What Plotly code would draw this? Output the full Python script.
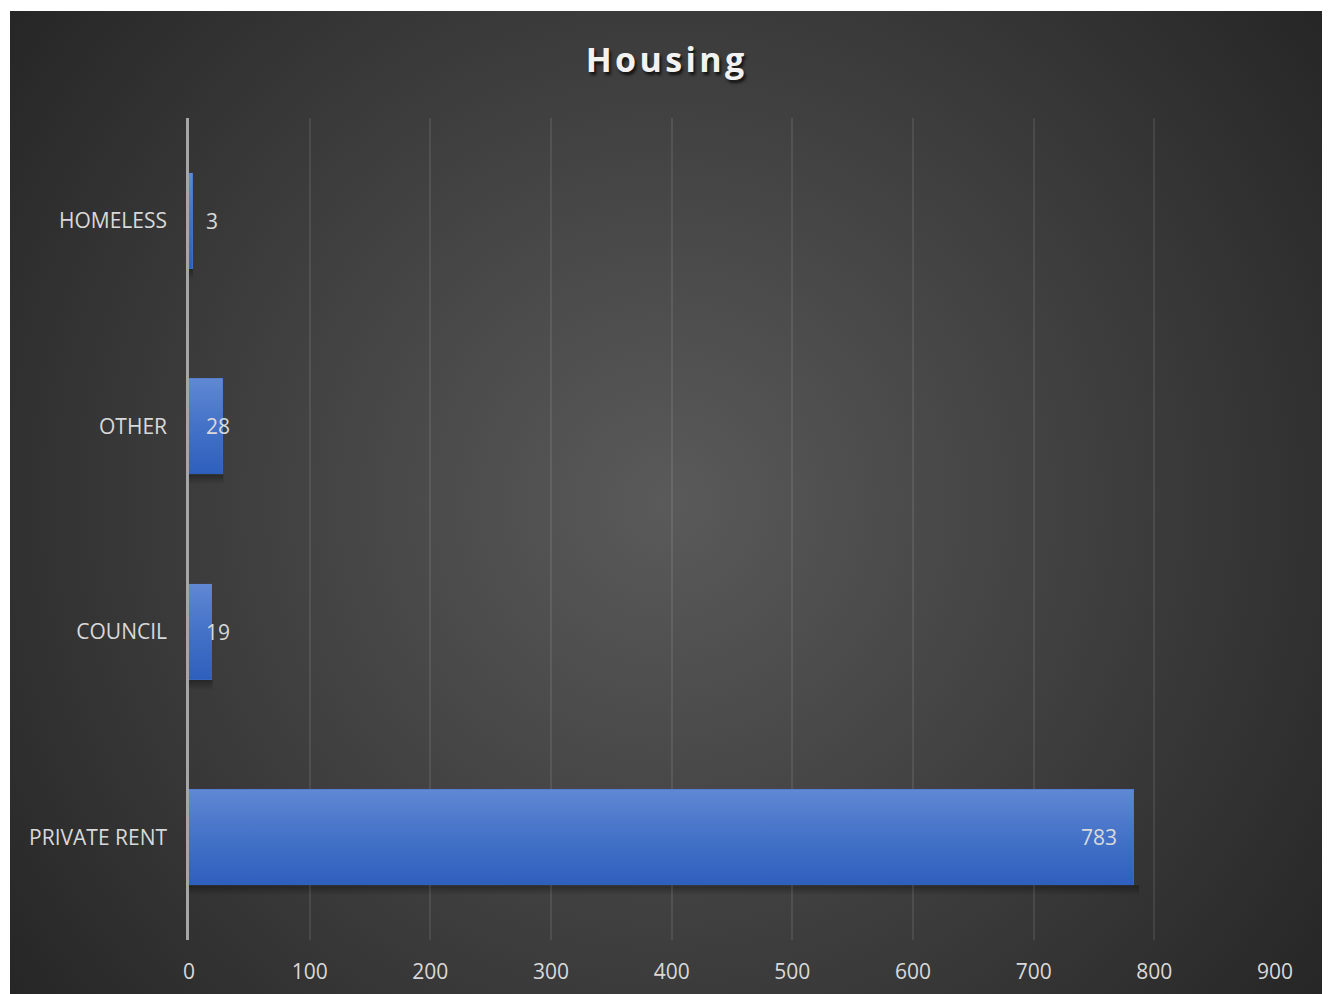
import base64
import plotly.graph_objects as go

# ---- data ----
categories = ["PRIVATE RENT", "COUNCIL", "OTHER", "HOMELESS"]
values = [783, 19, 28, 3]
x_ticks = [0, 100, 200, 300, 400, 500, 600, 700, 800, 900]
title_text = "Housing"

# ---- layout constants ----
W, H = 1330, 994
ML, MR, MT, MB = 189, 55, 118, 54
PW, PH = W - ML - MR, H - MT - MB
XMAX = 900
BAR_W = 0.467
TXT = "#d9d9d9"
FONT = "Open Sans"


def svg_uri(svg):
    return "data:image/svg+xml;base64," + base64.b64encode(svg.encode()).decode()


# radial background (circular, centre light, corners dark)
BX0, BY0, BX1, BY1 = 10, 11, 1322, 994
bw, bh = BX1 - BX0, BY1 - BY0
bg_svg = (
    f'<svg xmlns="http://www.w3.org/2000/svg" width="{bw}" height="{bh}" viewBox="0 0 {bw} {bh}">'
    f'<defs><radialGradient id="g" gradientUnits="userSpaceOnUse" cx="{bw/2}" cy="{bh/2}" r="{((bw/2)**2+(bh/2)**2)**0.5:.0f}">'
    '<stop offset="0" stop-color="#5a5a5a"/><stop offset="1" stop-color="#262626"/>'
    '</radialGradient></defs>'
    f'<rect width="{bw}" height="{bh}" fill="url(#g)"/></svg>'
)

bar_svg = (
    '<svg xmlns="http://www.w3.org/2000/svg" width="100" height="100" viewBox="0 0 100 100" preserveAspectRatio="none">'
    '<defs><linearGradient id="b" x1="0" y1="0" x2="0" y2="1">'
    '<stop offset="0" stop-color="#6088d4"/><stop offset="0.5" stop-color="#4472c8"/><stop offset="1" stop-color="#2e5fbd"/>'
    '</linearGradient></defs>'
    '<rect width="100" height="100" fill="url(#b)"/></svg>'
)
shadow_svg = (
    '<svg xmlns="http://www.w3.org/2000/svg" width="100" height="100" viewBox="0 0 100 100" preserveAspectRatio="none">'
    '<defs><linearGradient id="s" x1="0" y1="0" x2="0" y2="1">'
    '<stop offset="0" stop-color="#000" stop-opacity="0.35"/><stop offset="1" stop-color="#000" stop-opacity="0"/>'
    '</linearGradient></defs>'
    '<rect width="100" height="100" fill="url(#s)"/></svg>'
)

ypos = list(range(len(categories)))

fig = go.Figure()
fig.add_trace(go.Bar(
    x=values, y=ypos, orientation="h", width=BAR_W,
    marker=dict(color="#4472c8", line=dict(width=0)),
    hoverinfo="x+text", hovertext=categories, showlegend=False,
))

images = [dict(
    source=svg_uri(bg_svg), xref="paper", yref="paper",
    x=(BX0 - ML) / PW, y=(H - MB - BY0) / PH,
    sizex=bw / PW, sizey=bh / PH,
    xanchor="left", yanchor="top", sizing="stretch", layer="below",
)]

annotations = []
px_per_unit = PW / XMAX
for yi, v in zip(ypos, values):
    images.append(dict(
        source=svg_uri(shadow_svg), xref="x", yref="y",
        x=0, y=yi - BAR_W / 2, sizex=v * 1.005 + 0.6, sizey=0.05,
        xanchor="left", yanchor="top", sizing="stretch", layer="below",
    ))
    images.append(dict(
        source=svg_uri(bar_svg), xref="x", yref="y",
        x=0, y=yi + BAR_W / 2, sizex=v, sizey=BAR_W,
        xanchor="left", yanchor="top", sizing="stretch", layer="above",
    ))
    label = str(v)
    if v * px_per_unit > 80:
        annotations.append(dict(x=v, y=yi, xref="x", yref="y", text=label,
                                showarrow=False, xanchor="right", xshift=-15,
                                font=dict(family=FONT, size=21, color=TXT)))
    else:
        annotations.append(dict(x=0, y=yi, xref="x", yref="y", text=label,
                                showarrow=False, xanchor="left", xshift=15,
                                font=dict(family=FONT, size=21, color=TXT)))

fig.update_layout(
    width=W, height=H,
    margin=dict(l=ML, r=MR, t=MT, b=MB, pad=0, autoexpand=False),
    paper_bgcolor="white",
    plot_bgcolor="rgba(0,0,0,0)",
    font=dict(family=FONT, color=TXT, size=21),
    title=dict(
        text=f"<b>{' '.join(title_text)}</b>".replace(" ", "\u200a"),
        x=(665 / W), xref="container", xanchor="center",
        y=1 - 60 / H, yref="container", yanchor="middle",
        font=dict(family=FONT, size=34, color="#f2f2f2",
                  shadow="2px 3px 3px rgba(0,0,0,0.7)"),
    ),
    xaxis=dict(
        range=[0, XMAX], tickvals=x_ticks, ticktext=[str(t) for t in x_ticks],
        showgrid=True, gridcolor="rgba(255,255,255,0.09)", gridwidth=1.5,
        zeroline=False, showline=False, ticks="", ticklabelstandoff=17,
        automargin=False,
        tickfont=dict(family=FONT, size=21, color=TXT), fixedrange=True,
    ),
    yaxis=dict(
        range=[-0.5, len(categories) - 0.5], tickvals=ypos, ticktext=categories,
        showgrid=False, zeroline=False, showline=True, automargin=False,
        linecolor="#a6a6a6", linewidth=2.5, ticks="", ticklabelstandoff=15,
        tickfont=dict(family=FONT, size=21, color=TXT), fixedrange=True,
    ),
    images=images,
    annotations=annotations,
    bargap=0,
)

fig.write_html(
    "out.html",
    config={"displayModeBar": False},
    post_script="document.body.style.margin='0';document.body.style.overflow='hidden';",
)
